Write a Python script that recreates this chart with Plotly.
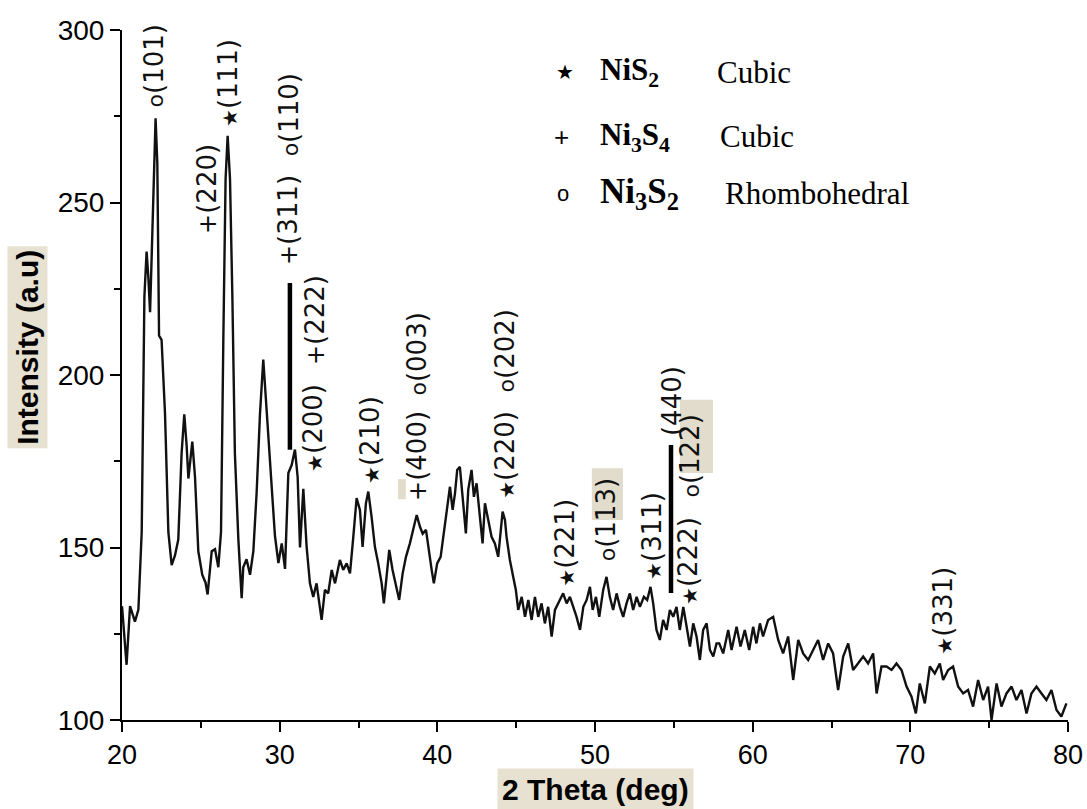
import plotly.graph_objects as go

# ---------------- data ----------------
two_theta = [
    20.00, 20.29, 20.51, 20.82, 21.04, 21.25, 21.42, 21.56, 21.67, 21.78, 21.88, 22.05, 22.13, 22.24,
    22.35, 22.51, 22.62, 22.73, 22.94, 23.15, 23.36, 23.57, 23.78, 23.95, 24.10, 24.21, 24.46, 24.63,
    24.84, 25.09, 25.30, 25.43, 25.69, 25.90, 26.11, 26.28, 26.43, 26.57, 26.70, 26.85, 27.00, 27.16,
    27.38, 27.59, 27.69, 27.90, 28.12, 28.33, 28.54, 28.75, 28.96, 29.11, 29.28, 29.49, 29.70, 29.92,
    30.13, 30.34, 30.55, 30.76, 30.97, 31.14, 31.29, 31.50, 31.71, 31.92, 32.13, 32.34, 32.56, 32.66,
    32.87, 33.08, 33.30, 33.51, 33.82, 34.03, 34.25, 34.46, 34.67, 34.88, 35.09, 35.26, 35.47, 35.62,
    35.83, 36.04, 36.25, 36.47, 36.61, 36.78, 36.95, 37.16, 37.37, 37.58, 37.80, 38.01, 38.26, 38.47,
    38.69, 38.90, 39.07, 39.28, 39.42, 39.64, 39.78, 39.99, 40.21, 40.42, 40.63, 40.80, 40.97, 41.12,
    41.26, 41.43, 41.64, 41.81, 41.96, 42.17, 42.32, 42.49, 42.70, 42.87, 43.02, 43.23, 43.44, 43.65,
    43.86, 44.14, 44.29, 44.39, 44.60, 44.81, 44.98, 45.13, 45.35, 45.56, 45.77, 45.98, 46.19, 46.40,
    46.61, 46.82, 47.03, 47.25, 47.46, 47.77, 47.98, 48.20, 48.41, 48.62, 48.83, 49.05, 49.26, 49.47,
    49.68, 49.85, 50.06, 50.27, 50.52, 50.73, 50.94, 51.15, 51.37, 51.58, 51.79, 52.00, 52.21, 52.42,
    52.64, 52.85, 53.10, 53.31, 53.52, 53.69, 53.90, 54.11, 54.32, 54.54, 54.75, 54.96, 55.17, 55.38,
    55.60, 55.81, 56.02, 56.23, 56.44, 56.65, 56.86, 57.08, 57.29, 57.50, 57.71, 57.88, 58.13, 58.45,
    58.66, 58.98, 59.23, 59.50, 59.78, 60.03, 60.24, 60.46, 60.66, 60.98, 61.30, 61.62, 61.93, 62.25,
    62.57, 62.89, 63.20, 63.52, 63.84, 64.15, 64.47, 64.79, 65.10, 65.42, 65.74, 66.06, 66.37, 66.69,
    67.01, 67.32, 67.64, 67.86, 68.17, 68.49, 68.81, 69.12, 69.44, 69.76, 70.07, 70.35, 70.60, 70.92,
    71.24, 71.55, 71.87, 72.08, 72.40, 72.71, 73.03, 73.35, 73.66, 73.98, 74.30, 74.62, 74.93, 75.15,
    75.47, 75.78, 76.10, 76.42, 76.73, 77.05, 77.37, 77.68, 78.00, 78.32, 78.63, 78.95, 79.27, 79.58,
    79.90,
]
intensity = [
    133, 116, 133, 128.5, 132, 154.5, 222.7, 235.8, 228.4, 218.2, 234, 261.4, 274.4, 261.4,
    211.4, 210.2, 200, 188.6, 154.5, 144.9, 147.7, 152.3, 177.3, 188.6, 179.5, 170, 180.7, 170.5,
    148.9, 142.1, 139.8, 136.4, 148.9, 149.5, 144.3, 154.5, 211.4, 256.8, 269.3, 256.8, 222.7, 177.3,
    152.3, 135.3, 144.3, 146.6, 142.1, 148.9, 166, 188.6, 204.5, 194.3, 181.8, 166, 153.4, 145.5,
    151.2, 143.8, 171.6, 173.9, 178.4, 170.5, 150, 167, 150.2, 139.6, 135.7, 139.6, 131.9, 129,
    137.7, 136.7, 143.5, 139.6, 146.4, 143.5, 145.4, 142.5, 153.1, 164.3, 160.9, 150.2, 162.8, 166.2,
    158.9, 150.2, 145.4, 139.6, 133.8, 141.5, 149.3, 143.5, 139.6, 134.8, 142.5, 147.3, 151.2, 155.1,
    159.4, 156, 154, 155.1, 150.2, 143.5, 139.6, 145.4, 147.3, 155.1, 162.8, 167.6, 160.9, 165.7,
    172.5, 173.4, 162.8, 154.1, 166.7, 172.5, 164.7, 168.6, 158.9, 151.2, 162.8, 158, 153.1, 151.2,
    147.3, 160.4, 158, 153.1, 146.4, 141.5, 137.7, 131.9, 135.7, 129.9, 134.8, 129, 135.7, 129.9,
    133.8, 128, 132.8, 124.2, 131.9, 134.8, 136.7, 133.8, 135.7, 132.8, 129.9, 126.1, 132.8, 134.8,
    138.6, 131.9, 135.7, 129.9, 137.7, 141.5, 135.7, 131.9, 136.7, 132.8, 129.9, 133.8, 136.7, 131.9,
    135.7, 132.8, 135.7, 134.8, 138.6, 133.8, 126.1, 123.2, 129, 126.1, 131.9, 129.9, 132.8, 126.1,
    132.8, 127.1, 121.3, 128, 124.2, 117.4, 126.1, 128, 120.3, 118.4, 122.2, 122.2, 119.3, 126.1,
    120.3, 127, 121.3, 126.1, 120.3, 127, 122.2, 128, 124.2, 129, 129.9, 123.2, 119.3, 124.2,
    111.6, 123.2, 119.3, 117.4, 120.3, 123.2, 117.4, 122.2, 119.3, 108.7, 118.4, 122.2, 114.5, 116.4,
    118.4, 116.4, 119.3, 107.7, 115.5, 115.5, 114.5, 116.4, 114.5, 109.7, 106.8, 101.9, 110.6, 104.8,
    115.5, 113.5, 116.4, 111.6, 114.5, 115.5, 109.7, 107.7, 108.7, 103.9, 111.6, 105.8, 109.7, 100,
    110.6, 103.9, 107.7, 109.7, 105.8, 108.7, 101.9, 107.7, 109.7, 107.7, 105.8, 108.7, 102.9, 101,
    104.8,
]

x_tick_values = [20, 30, 40, 50, 60, 70, 80]
y_tick_values = [100, 150, 200, 250, 300]

# peak labels: (marker, hkl, 2theta position, intensity at bottom of label)
label_marker = ["o", "star", "plus", "plus", "o", "star", "plus", "star", "plus", "o",
                "star", "o", "star", "o", "star", "", "star", "o", "star"]
label_hkl = ["(101)", "(111)", "(220)", "(311)", "(110)", "(200)", "(222)", "(210)", "(400)", "(003)",
             "(220)", "(202)", "(221)", "(113)", "(311)", "(440)", "(222)", "(122)", "(331)"]
label_x = [22.09, 26.72, 25.39, 30.53, 30.65, 32.11, 32.24, 35.73, 38.71, 38.71,
           44.29, 44.29, 48.09, 50.75, 53.61, 54.88, 55.89, 56.02, 72.06]
label_y = [277.4, 271.6, 240.6, 231.6, 263.2, 171.6, 202.6, 168.1, 163.2, 193.9,
           163.8, 194.8, 138.3, 145.8, 140.3, 182.0, 133.0, 164.3, 118.6]

# grouping bars (2theta, low intensity, high intensity)
bar_x = [30.65, 54.82]
bar_y0 = [178.3, 136.8]
bar_y1 = [226.7, 179.7]

# phase key
key_marker = ["star", "plus", "o"]
key_formula = ["NiS<sub>2</sub>", "Ni<sub>3</sub>S<sub>4</sub>", "Ni<sub>3</sub>S<sub>2</sub>"]
key_system = ["Cubic", "Cubic", "Rhombohedral"]

# ---------------- figure ----------------
MARK_HTML = {
    "star": "<span style='font-size:20px'>★</span>",
    "plus": "<span style='font-size:24px'>+</span>",
    "o": "<span style='font-size:22px'>o</span>",
    "": "",
}

fig = go.Figure()
fig.add_trace(go.Scatter(
    x=two_theta, y=intensity, mode="lines",
    line=dict(color="#111111", width=2.4),
    showlegend=False, hoverinfo="skip",
))

for m, hkl, x, y in zip(label_marker, label_hkl, label_x, label_y):
    fig.add_annotation(
        x=x, y=y, xref="x", yref="y", text=MARK_HTML[m] + hkl,
        showarrow=False, textangle=-90, xanchor="center", yanchor="bottom",
        font=dict(family="DejaVu Sans", size=26, color="#111111"), borderpad=0,
    )

for x, y0, y1 in zip(bar_x, bar_y0, bar_y1):
    fig.add_shape(type="line", xref="x", yref="y", x0=x, x1=x, y0=y0, y1=y1,
                  line=dict(color="black", width=4.5))

# light beige patches behind some labels (as in the reference)
beige = "#e1dccb"
for x0, x1, y0, y1 in [(49.80, 51.77, 158.0, 173.0), (55.38, 57.48, 171.6, 192.8),
                       (37.50, 38.00, 164.0, 169.8)]:
    fig.add_shape(type="rect", xref="x", yref="y", x0=x0, x1=x1, y0=y0, y1=y1,
                  fillcolor=beige, line=dict(width=0), layer="below")

# phase key
key_row_y = [287.8, 269.0, 252.5]
key_marker_x = [48.09, 47.90, 47.96]
key_system_x = [57.92, 58.11, 58.43]
key_marker_html = {"star": ("★", 20, "DejaVu Sans"), "plus": ("+", 26, "Liberation Sans"),
                   "o": ("o", 22, "Liberation Sans")}
for i in range(3):
    ch, sz, fam = key_marker_html[key_marker[i]]
    fig.add_annotation(x=key_marker_x[i], y=key_row_y[i], xref="x", yref="y", text=ch,
                       showarrow=False, xanchor="center", yanchor="middle",
                       font=dict(family=fam, size=sz, color="black"))
    fig.add_annotation(x=50.20, y=key_row_y[i], xref="x", yref="y",
                       text="<b>" + key_formula[i] + "</b>",
                       showarrow=False, xanchor="left", yanchor="middle",
                       font=dict(family="Liberation Serif", size=35 if i == 2 else 31, color="black"))
    fig.add_annotation(x=key_system_x[i] - 0.3, y=key_row_y[i], xref="x", yref="y", text=key_system[i],
                       showarrow=False, xanchor="left", yanchor="middle",
                       font=dict(family="Liberation Serif", size=31, color="black"))

# axis titles with beige backgrounds
fig.add_annotation(xref="paper", yref="paper", x=-0.1, y=0.54,
                   text="<b>Intensity (a.u)</b>", textangle=-90, showarrow=False,
                   xanchor="center", yanchor="middle", bgcolor="#e6e1d1", borderpad=3,
                   font=dict(family="Liberation Sans", size=30, color="black"))
fig.add_annotation(xref="paper", yref="paper", x=0.5, y=-0.1,
                   text="<b>2 Theta (deg)</b>", showarrow=False,
                   xanchor="center", yanchor="middle", bgcolor="#e6e1d1", borderpad=4,
                   font=dict(family="Liberation Sans", size=30, color="black"))

axis_common = dict(showline=True, linecolor="black", linewidth=2, ticks="outside",
                   ticklen=10, tickwidth=2, tickcolor="black", showgrid=False, zeroline=False,
                   mirror=False, automargin=False)
fig.update_xaxes(range=[20, 80], tickvals=x_tick_values, **axis_common,
                 tickfont=dict(family="Liberation Sans", size=27, color="black"),
                 minor=dict(ticks="outside", ticklen=6, tickwidth=2, tickcolor="black", dtick=5,
                            tick0=20))
fig.update_yaxes(range=[100, 300], tickvals=y_tick_values, **axis_common,
                 tickfont=dict(family="Liberation Sans", size=28, color="black"),
                 minor=dict(ticks="outside", ticklen=6, tickwidth=2, tickcolor="black", dtick=25,
                            tick0=100))

fig.update_layout(
    width=1087, height=809, autosize=False,
    margin=dict(l=122, r=19, t=30, b=89, autoexpand=False),
    plot_bgcolor="white", paper_bgcolor="white",
)

fig.write_html("out.html")
